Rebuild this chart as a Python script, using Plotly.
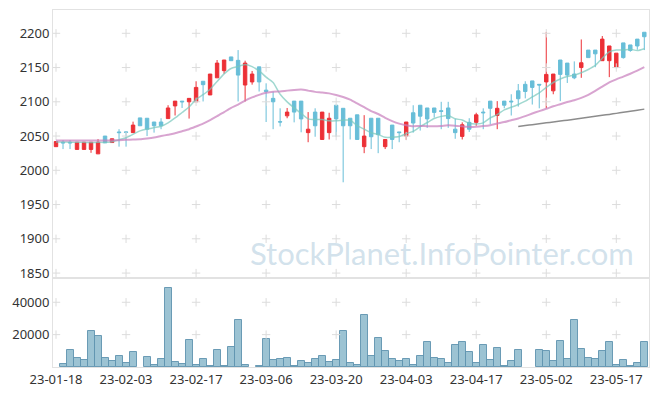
import pandas as pd
import plotly.graph_objects as go
from plotly.subplots import make_subplots

# ---- data ----
holidays = ["2023-01-23", "2023-01-24", "2023-03-01", "2023-05-01", "2023-05-05"]
dates = [d.strftime("%Y-%m-%d") for d in
         pd.bdate_range("2023-01-18", "2023-05-23", freq="C", holidays=holidays)]

open_ = [2034.5, 2041, 2041, 2030.5, 2030.5, 2030.5, 2024, 2050, 2040.5, 2056,
         2056, 2055, 2076.5, 2076, 2070.5, 2070.5, 2075.5, 2094, 2101, 2100,
         2100, 2130, 2110, 2135, 2145.5, 2165.5, 2160.5, 2124.5, 2129, 2151,
         2117, 2105, 2071, 2079.5, 2101, 2101, 2055, 2085, 2045, 2055,
         2095, 2090.5, 2076, 2081, 2034.5, 2076, 2076, 2034.5, 2066, 2056,
         2050, 2084, 2095, 2091, 2091, 2087, 2091, 2060, 2049.5, 2070,
         2070, 2085, 2101, 2080, 2101, 2101, 2116, 2125.5, 2130.5, 2125.5,
         2129, 2116, 2161, 2156.5, 2140.5, 2150, 2175.5, 2175.5, 2160, 2160,
         2150, 2186, 2183, 2191.5, 2201.5]
high = [2042, 2044, 2044, 2041, 2041, 2041, 2045.5, 2050, 2046, 2060,
        2056.5, 2071, 2076.5, 2076, 2070.5, 2076, 2095, 2101, 2101, 2105,
        2130, 2130, 2140.5, 2161, 2161, 2165.5, 2175.5, 2160, 2145, 2151,
        2127, 2115, 2090.5, 2091, 2101, 2101, 2085, 2090.5, 2085, 2084,
        2095, 2090.5, 2076, 2081, 2080.5, 2076, 2076, 2045, 2066, 2056,
        2070.5, 2095, 2095, 2091, 2091, 2100, 2100, 2075, 2070, 2076,
        2084, 2090.5, 2101, 2101, 2101, 2111, 2126, 2130, 2130.5, 2126,
        2202, 2140.5, 2161, 2156.5, 2159, 2191, 2175.5, 2175.5, 2196, 2181.5,
        2171, 2186, 2183, 2191.5, 2201.5]
low = [2034.5, 2031, 2031, 2030.5, 2030.5, 2025.5, 2024, 2040, 2040.5, 2034.5,
       2034.5, 2055, 2065, 2050, 2055, 2060, 2075.5, 2080, 2091, 2075.5,
       2100, 2100.5, 2110, 2135, 2141, 2160, 2100.5, 2100.5, 2125, 2115,
       2070.5, 2060, 2064, 2076, 2070, 2055.5, 2041, 2049, 2045, 2045,
       2049, 1982.5, 2045, 2045, 2025, 2031, 2025, 2031, 2031, 2041,
       2044.5, 2055, 2058, 2062, 2077, 2060, 2062, 2046, 2045, 2056,
       2065, 2060, 2067, 2060, 2090.5, 2080, 2093, 2105, 2096, 2090.5,
       2090.5, 2111, 2101, 2127.5, 2133, 2135, 2164.5, 2150.5, 2160, 2136,
       2150, 2163, 2173, 2176, 2175.5]
close = [2042, 2040, 2040, 2041, 2041, 2041, 2041, 2040, 2046, 2055,
         2055.5, 2066, 2065, 2060, 2065, 2065, 2091, 2101, 2100, 2105,
         2121, 2125, 2140.5, 2156.5, 2161, 2160, 2139, 2156.5, 2140.5, 2129,
         2115, 2100, 2070.5, 2085, 2085, 2075, 2060, 2065, 2085, 2076,
         2075, 2065, 2065, 2045, 2050, 2049, 2052, 2045, 2045, 2055,
         2070.5, 2069, 2079, 2075, 2084.5, 2086, 2075.5, 2055, 2066.5, 2060,
         2081, 2084, 2090.5, 2090.5, 2095, 2100, 2104.5, 2115, 2121, 2124.5,
         2140, 2140.5, 2140, 2139, 2135, 2157, 2164.5, 2170, 2191.5, 2181.5,
         2171, 2164.5, 2175, 2181.5, 2195]
volume = [None, 1800, 10200, 5400, 4200, 22200, 19200, 5400, 3600, 6600,
          2400, 9000, None, 6000, 1200, 4800, 48600, 3000, 1800, 16800,
          1200, 4800, 600, 10200, 600, 12600, 28800, 1200, None, 600,
          17400, 4200, 4800, 5400, 600, 3600, 2400, 4800, 6600, 3000,
          4400, 22200, 2400, 1200, 32400, 6600, 18000, 9600, 4800, 3600,
          4800, 1200, 6600, 15600, 5400, 4800, 2400, 13800, 15600, 9000,
          2400, 13800, 4200, 12000, 600, 3600, 10200, None, None, 10800,
          9600, 3600, 16200, 4800, 28800, 11400, 5400, 4800, 9600, 15600,
          1200, 4200, 600, 2400, 15600]
ma5 = [2041.5, 2041.3, 2041, 2041, 2040.8, 2040.6, 2040.8, 2040.8, 2041.8, 2044.6,
       2047.5, 2052.5, 2057.5, 2060.3, 2062.3, 2064.2, 2069.2, 2076.4, 2084.4, 2092.4,
       2103.6, 2110.4, 2118.3, 2129.6, 2140.8, 2148.6, 2151.4, 2154.6, 2151.4, 2145,
       2136, 2128.2, 2111, 2099.9, 2091.1, 2083.1, 2075.1, 2074, 2074, 2072.2,
       2072.2, 2073.2, 2073.2, 2065.2, 2060, 2054.8, 2052.2, 2048.2, 2048.2, 2049.2,
       2053.5, 2056.9, 2063.7, 2069.7, 2075.6, 2078.7, 2080, 2075.2, 2073.5, 2068.6,
       2067.6, 2069.3, 2076.4, 2081.2, 2088.2, 2092, 2096.1, 2101, 2107.1, 2113,
       2121, 2128.2, 2133.2, 2136.8, 2138.9, 2142.3, 2147.1, 2153.1, 2163.6, 2172.9,
       2175.7, 2175.7, 2176.7, 2174.7, 2177.4]
ma20 = [2043.5, 2043.5, 2043.5, 2043.5, 2043.5, 2043.5, 2043.5, 2043.5, 2043.7, 2044,
        2044.5, 2045, 2045.3, 2046.5, 2048, 2050, 2052, 2054, 2057, 2060.0,
        2064.0, 2068.2, 2073.3, 2079.0, 2085.0, 2091.0, 2095.9, 2101.7, 2106.4, 2110.1,
        2113.1, 2114.8, 2115.1, 2116.3, 2117.3, 2117.8, 2116.3, 2114.5, 2113.7, 2112.3,
        2110.0, 2107.0, 2103.2, 2097.6, 2092.1, 2086.5, 2082.2, 2076.6, 2071.8, 2068.1,
        2065.9, 2064.4, 2064.8, 2064.3, 2064.3, 2064.8, 2065.6, 2065.1, 2064.2, 2063.4,
        2063.7, 2064.6, 2065.9, 2068.2, 2070.4, 2073.0, 2075.6, 2079.1, 2082.9, 2086.4,
        2089.8, 2093.4, 2096.5, 2099.7, 2102.2, 2105.7, 2110.2, 2115.9, 2122.2, 2128.3,
        2132.8, 2136.8, 2141.0, 2145.6, 2150.6]
ma_long_start = 66
ma_long = [2064, 2065.3, 2066.6, 2068, 2069.3, 2070.6, 2071.9, 2073.2, 2074.6, 2076,
           2077.4, 2078.8, 2080.2, 2081.6, 2083.1, 2084.6, 2086.1, 2087.7, 2089.3]

price_ticks = [1850, 1900, 1950, 2000, 2050, 2100, 2150, 2200]
volume_ticks = [20000, 40000]
volume_tick_labels = ["20000", "40000"]
tick_every = 10
tick_dates = dates[::tick_every]
tick_labels = [pd.Timestamp(d).strftime("%y-%m-%d") for d in tick_dates]

# ---- styles ----
UP = "rgb(236,48,54)"
DOWN = "rgb(104,190,216)"
GRIDCROSS = "#dcdcdc"
AXIS = "#e2e2e2"
FONT = "Noto Sans"

fig = make_subplots(rows=2, cols=1, shared_xaxes=True, vertical_spacing=0,
                    row_heights=[268, 89])

fig.add_trace(go.Candlestick(
    x=dates, open=open_, high=high, low=low, close=close,
    increasing=dict(line=dict(color=UP, width=1), fillcolor=UP),
    decreasing=dict(line=dict(color=DOWN, width=1), fillcolor=DOWN),
    whiskerwidth=0, name="price"), row=1, col=1)

fig.add_trace(go.Bar(x=dates, y=volume, width=1.0,
                     marker=dict(color="rgba(145,188,206,0.9)",
                                 line=dict(color="rgba(95,148,175,0.9)", width=1)),
                     name="volume"), row=2, col=1)

# grid crosses
cx, cy = [], []
for d in tick_dates:
    for v in price_ticks:
        cx.append(d); cy.append(v)
fig.add_trace(go.Scatter(x=cx, y=cy, mode="markers", hoverinfo="skip",
                         marker=dict(symbol="cross-thin", size=6,
                                     line=dict(color=GRIDCROSS, width=1))),
              row=1, col=1)
vx, vy = [], []
for d in tick_dates:
    for v in volume_ticks:
        vx.append(d); vy.append(v)
fig.add_trace(go.Scatter(x=vx, y=vy, mode="markers", hoverinfo="skip",
                         marker=dict(symbol="cross-thin", size=6,
                                     line=dict(color=GRIDCROSS, width=1))),
              row=2, col=1)

fig.add_trace(go.Scatter(x=dates, y=ma5, mode="lines",
                         line=dict(color="rgba(120,200,188,0.7)", width=1.5, shape="spline", smoothing=0.6),
                         name="MA5"), row=1, col=1)
fig.add_trace(go.Scatter(x=dates, y=ma20, mode="lines",
                         line=dict(color="rgba(200,125,188,0.7)", width=2, shape="spline", smoothing=0.6),
                         name="MA20"), row=1, col=1)
fig.add_trace(go.Scatter(x=dates[ma_long_start:], y=ma_long, mode="lines",
                         line=dict(color="rgba(120,120,120,0.85)", width=1.5, shape="spline"),
                         name="MA"), row=1, col=1)

fig.add_annotation(text="StockPlanet.InfoPointer.com", xref="paper", yref="paper",
                   x=0.652, y=0.318, xanchor="center", yanchor="middle", showarrow=False,
                   font=dict(family="Lato", size=31, color="rgba(185,210,225,0.65)"))

fig.update_layout(
    width=657, height=396, margin=dict(l=53, r=8, t=10, b=29, autoexpand=False),
    paper_bgcolor="white", plot_bgcolor="white", showlegend=False,
    bargap=0, font=dict(family=FONT, size=13, color="#333"),
)
xr = [-0.43, 84.67]
fig.update_xaxes(type="category", categoryorder="array", categoryarray=dates,
                 range=xr, showgrid=False, showline=True,
                 linecolor=AXIS, linewidth=1, mirror=True, zeroline=False,
                 rangeslider=dict(visible=False), ticks="", automargin=False,
                 tickvals=tick_dates, ticktext=tick_labels, tickangle=0)
fig.update_xaxes(showticklabels=False, row=1, col=1)
fig.update_xaxes(tickfont=dict(size=13, color="#333"), row=2, col=1)
fig.update_yaxes(range=[1842.8, 2234], tickvals=price_ticks, showgrid=False,
                 showline=True, linecolor=AXIS, mirror=True, zeroline=False,
                 ticks="", automargin=False,
                 tickfont=dict(size=13, color="#333"), row=1, col=1)
fig.update_yaxes(range=[0, 55000], tickvals=volume_ticks, ticktext=volume_tick_labels,
                 showgrid=False, showline=True, linecolor=AXIS, mirror=True,
                 zeroline=False, ticks="", automargin=False,
                 tickfont=dict(size=13, color="#333"), row=2, col=1)

fig.write_html("out.html", config={"displayModeBar": False},
               post_script="document.body.style.margin='0';document.body.style.overflow='hidden';")
